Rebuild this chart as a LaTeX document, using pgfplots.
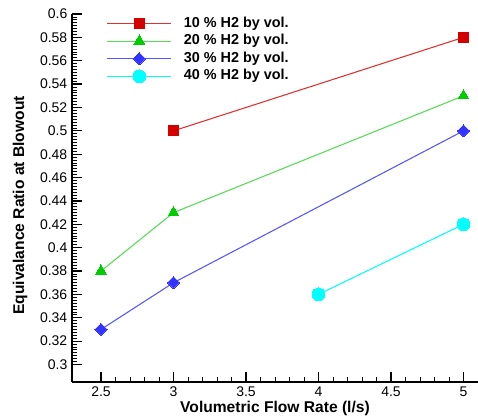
\documentclass[border=0pt]{standalone}
\usepackage{pgfplots}
\pgfplotsset{compat=1.18}
\usepackage{fontspec}
\setmainfont{Liberation Sans}
\definecolor{cred}{HTML}{D40000}
\definecolor{lred}{HTML}{E03030}
\definecolor{cgreen}{HTML}{00CC00}
\definecolor{lgreen}{HTML}{55DD55}
\definecolor{cblue}{HTML}{3333FF}
\definecolor{lblue}{HTML}{5555FF}
\definecolor{ccyan}{HTML}{00FFFF}
\begin{document}
\begin{tikzpicture}[x=0.75pt,y=0.75pt]
\begin{axis}[
  name=ax,
  scale only axis,
  width=304.5pt, height=276pt,
  xmin=2.3, xmax=5.1, ymin=0.285, ymax=0.6,
  axis x line=bottom, axis y line=left,
  axis line style={-, line width=1.3pt},
  xtick={2.5,3,3.5,4,4.5,5},
  ytick={0.3,0.32,...,0.61},
  yticklabels={0.3,0.32,0.34,0.36,0.38,0.4,0.42,0.44,0.46,0.48,0.5,0.52,0.54,0.56,0.58,0.6},
  xticklabels={2.5,3,3.5,4,4.5,5},
  minor x tick num=4, minor y tick num=7,
  tick align=inside,
  major tick length=7.5pt, minor tick length=3.75pt,
  tick style={black, line width=0.9pt},
  minor tick style={line width=0.6pt},
  ticklabel style={font=\fontsize{10.5}{12}\selectfont},
  /pgf/number format/assume math mode=true,
  xlabel={\textbf{Volumetric Flow Rate (l/s)}},
  ylabel={\textbf{Equivalance Ratio at Blowout}},
  label style={font=\fontsize{11.7}{13}\selectfont},
  xlabel style={at={(axis description cs:0.5,-0.0707)}, anchor=center},
  ylabel style={at={(axis description cs:-0.128,0.48)}, anchor=center},
  legend style={draw=none, fill=none, at={(0.085,0.994)}, anchor=north west,
    font=\fontsize{10.8}{12}\bfseries, row sep=2.7pt, column sep=7pt, inner sep=0pt,
    nodes={inner ysep=0pt, text height=8pt, text depth=2.5pt}},
  legend cell align=left,
  legend image code/.code={%
    \draw (0pt,0pt) -- (48pt,0pt);
    \begin{pgfinterruptboundingbox}
    \draw[mark repeat=2,mark phase=2] plot coordinates {(0pt,0pt)(24pt,0pt)(48pt,0pt)};
    \end{pgfinterruptboundingbox}},
  clip=false,
]
\addplot[lred, line width=0.8pt, mark=square*, mark size=3.7pt, mark options={fill=cred, draw=cred, line width=0pt}]
  coordinates {(3,0.5) (5,0.58)};
\addlegendentry{10 \% H2 by vol.}
\addplot[lgreen, line width=0.8pt, mark=triangle*, mark size=4.7pt, mark options={fill=cgreen, draw=cgreen, line width=0pt}]
  coordinates {(2.5,0.38) (3,0.43) (5,0.53)};
\addlegendentry{20 \% H2 by vol.}
\addplot[lblue, line width=0.8pt, mark=square*, mark size=3.2pt, mark options={rotate=45, fill=cblue, draw=cblue, line width=0pt}]
  coordinates {(2.5,0.33) (3,0.37) (5,0.5)};
\addlegendentry{30 \% H2 by vol.}
\addplot[ccyan, line width=0.8pt, mark=*, mark size=4.8pt, mark options={fill=ccyan, draw=ccyan, line width=0pt}]
  coordinates {(4,0.36) (5,0.42)};
\addlegendentry{40 \% H2 by vol.}
\end{axis}
\pgfresetboundingbox
\path[use as bounding box] ([shift={(-54pt,-27.75pt)}]ax.south west) rectangle ([shift={(0pt,10.5pt)}]ax.north east);
\end{tikzpicture}
\end{document}
